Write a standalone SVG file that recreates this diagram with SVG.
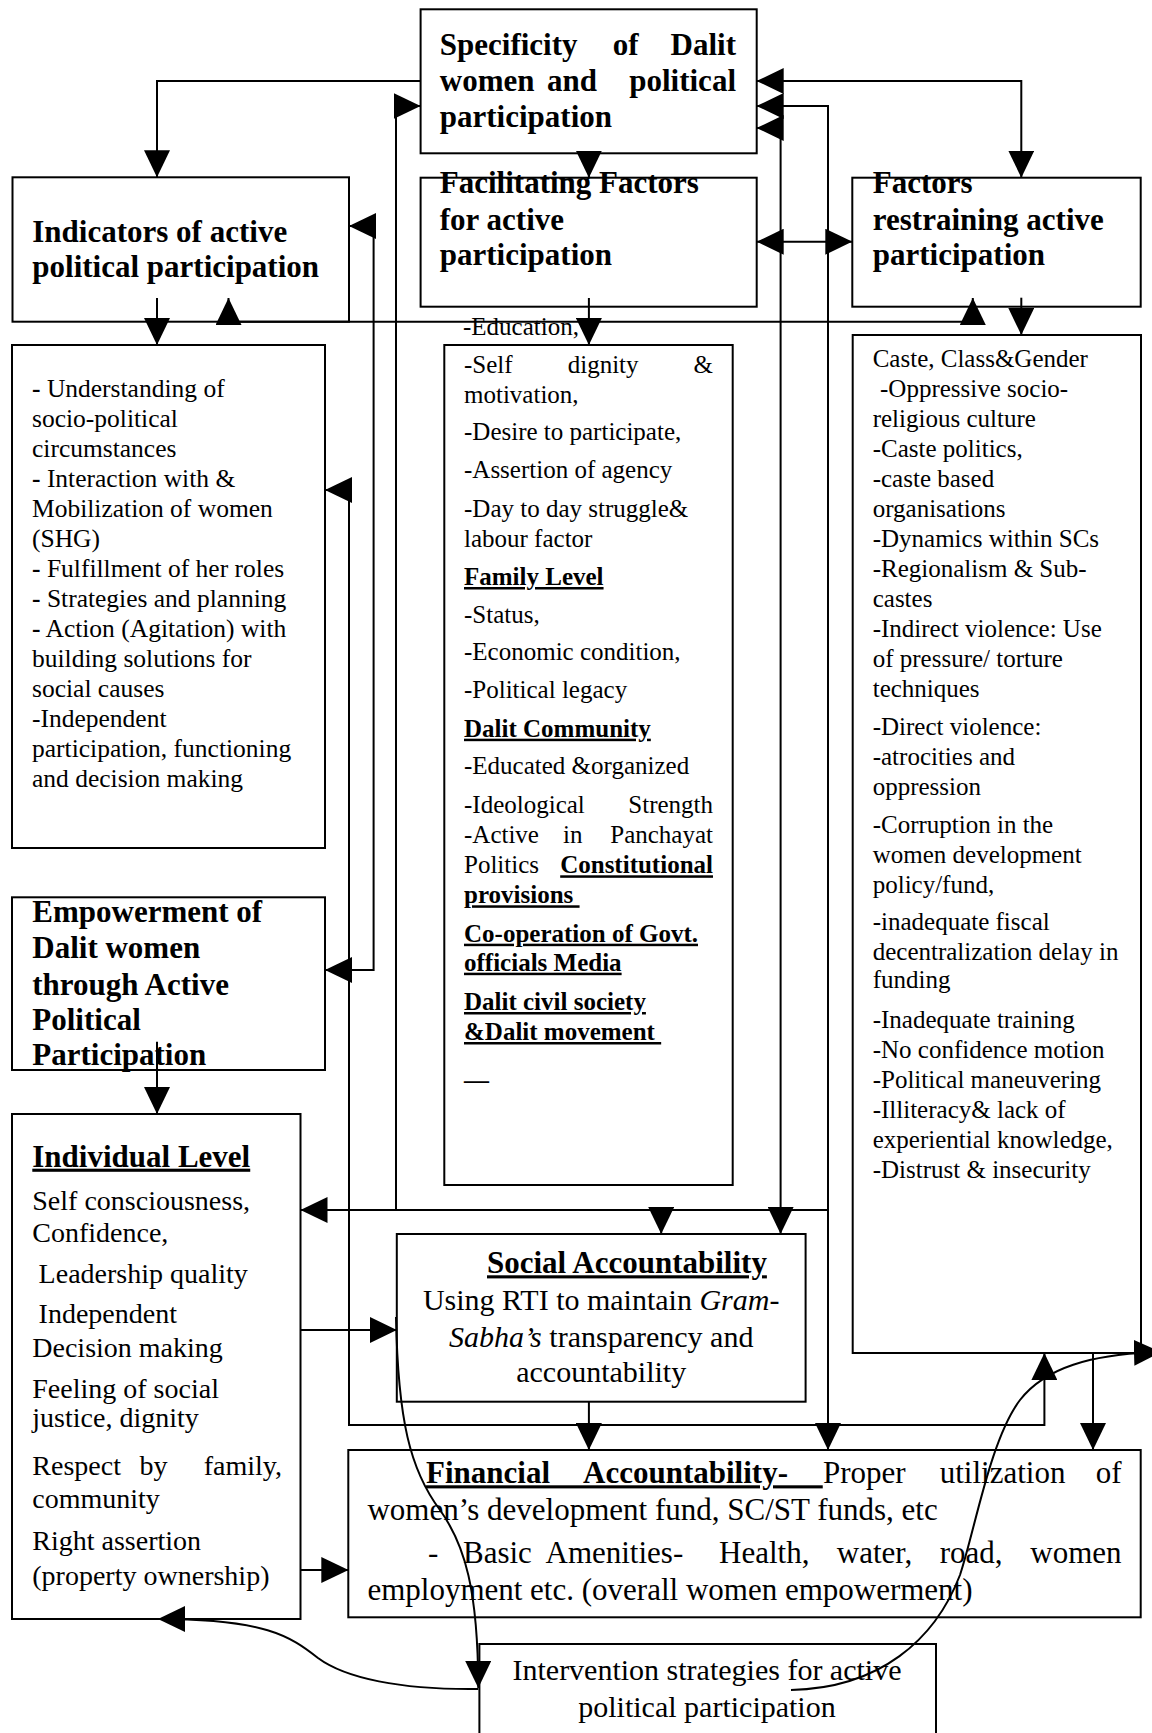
<svg xmlns="http://www.w3.org/2000/svg" width="1152" height="1733" viewBox="0 0 1152 1733">
<style>
.box{fill:#fff;stroke:#000;stroke-width:2}
.c{fill:none;stroke:#000;stroke-width:2;marker-end:url(#ah)}
.c2{fill:none;stroke:#000;stroke-width:2;marker-start:url(#ah);marker-end:url(#ah)}
.n{fill:none;stroke:#000;stroke-width:2}
text{font-family:"Liberation Serif","Times New Roman",serif;fill:#000}
.h{font-size:31px;font-weight:bold}
.t{font-size:25px}
.t5{font-size:25.5px}
.m{font-size:28px}
.l{font-size:30px}
.f{font-size:31px}
.b{font-weight:bold}
.u{text-decoration:underline}
.i{font-style:italic}
</style>
<defs>
<marker id="ah" markerUnits="userSpaceOnUse" viewBox="0 0 27 26" markerWidth="27" markerHeight="26" refX="27" refY="13" orient="auto-start-reverse">
<path d="M0,0 L27,13 L0,26 z" fill="#000"/>
</marker>
</defs>

<g id="specificity">
<rect class="box" x="420.6" y="9.3" width="336.1" height="144"/>
<text class="h" y="55"><tspan x="439.8">Specificity</tspan><tspan x="612.7">of</tspan></text>
<text class="h" x="736" y="55" text-anchor="end">Dalit</text>
<text class="h" y="90.7"><tspan x="439.8">women</tspan><tspan x="547">and</tspan></text>
<text class="h" x="736" y="90.7" text-anchor="end">political</text>
<text class="h" x="439.8" y="126.7">participation</text>
</g>

<g id="indicators">
<rect class="box" x="12.5" y="177.3" width="336.5" height="144.4"/>
<text class="h" x="32.3" y="241.7">Indicators of active</text>
<text class="h" x="32.3" y="276.7">political participation</text>
</g>

<g id="facilitating">
<rect class="box" x="420.6" y="177.7" width="336.1" height="129"/>
<text class="h" x="439.8" y="193">Facilitating Factors</text>
<text class="h" x="439.8" y="230">for active</text>
<text class="h" x="439.8" y="265">participation</text>
</g>

<g id="restraining">
<rect class="box" x="852.3" y="177.7" width="288.4" height="129"/>
<text class="h" x="872.8" y="193">Factors</text>
<text class="h" x="872.8" y="230">restraining active</text>
<text class="h" x="872.8" y="265">participation</text>
</g>

<g id="indicators-list">
<rect class="box" x="12" y="345" width="313" height="503"/>
<text class="t5" x="32" y="396.7"><tspan class="b">-</tspan> Understanding of</text>
<text class="t5" x="32" y="426.7">socio-political</text>
<text class="t5" x="32" y="456.7">circumstances</text>
<text class="t5" x="32" y="486.7"><tspan class="b">-</tspan> Interaction with &amp;</text>
<text class="t5" x="32" y="516.7">Mobilization of women</text>
<text class="t5" x="32" y="546.7">(SHG)</text>
<text class="t5" x="32" y="576.7"><tspan class="b">-</tspan> Fulfillment of her roles</text>
<text class="t5" x="32" y="606.7"><tspan class="b">-</tspan> Strategies and planning</text>
<text class="t5" x="32" y="636.7"><tspan class="b">-</tspan> Action (Agitation) with</text>
<text class="t5" x="32" y="666.7">building solutions for</text>
<text class="t5" x="32" y="696.7">social causes</text>
<text class="t5" x="32" y="726.7">-Independent</text>
<text class="t5" x="32" y="756.7">participation, functioning</text>
<text class="t5" x="32" y="786.7">and decision making</text>
</g>

<g id="facilitating-list">
<rect class="box" x="444.3" y="345" width="288.4" height="840"/>
<text class="t" x="463" y="335">-Education,</text>
<text class="t" y="373.3"><tspan x="464">-Self</tspan><tspan x="567.7">dignity</tspan></text>
<text class="t" x="713" y="373.3" text-anchor="end">&amp;</text>
<text class="t" x="464" y="403.3">motivation,</text>
<text class="t" x="464" y="440">-Desire to participate,</text>
<text class="t" x="464" y="478.3">-Assertion of agency</text>
<text class="t" x="464" y="516.7">-Day to day struggle&amp;</text>
<text class="t" x="464" y="546.7">labour factor</text>
<text class="t b u" x="464" y="585" font-size="26">Family Level</text>
<text class="t" x="464" y="623.3">-Status,</text>
<text class="t" x="464" y="660">-Economic condition,</text>
<text class="t" x="464" y="698.3">-Political legacy</text>
<text class="t b u" x="464" y="736.7" font-size="26">Dalit Community</text>
<text class="t" x="464" y="774">-Educated &amp;organized</text>
<text class="t" x="464" y="812.7">-Ideological</text>
<text class="t" x="713" y="812.7" text-anchor="end">Strength</text>
<text class="t" y="842.7"><tspan x="464">-Active</tspan><tspan x="563">in</tspan></text>
<text class="t" x="713" y="842.7" text-anchor="end">Panchayat</text>
<text class="t" x="464" y="873.3">Politics</text>
<text class="t b u" x="713" y="873.3" text-anchor="end" font-size="26">Constitutional</text>
<text class="t b u" x="464" y="903.3" font-size="26" xml:space="preserve">provisions </text>
<text class="t b u" x="464" y="941.7" font-size="26">Co-operation of Govt.</text>
<text class="t b u" x="464" y="970.7" font-size="26">officials Media</text>
<text class="t b u" x="464" y="1010" font-size="26">Dalit civil society</text>
<text class="t b u" x="464" y="1040" font-size="26" xml:space="preserve">&amp;Dalit movement </text>
<text class="t b" x="464" y="1088" font-size="26">—</text>
</g>

<g id="restraining-list">
<rect class="box" x="852.7" y="335" width="288.3" height="1018"/>
<text class="t" x="872.7" y="366.7">Caste, Class&amp;Gender</text>
<text class="t" x="880" y="396.7">-Oppressive socio-</text>
<text class="t" x="872.7" y="426.7">religious culture</text>
<text class="t" x="872.7" y="456.7">-Caste politics,</text>
<text class="t" x="872.7" y="486.7">-caste based</text>
<text class="t" x="872.7" y="516.7">organisations</text>
<text class="t" x="872.7" y="546.7">-Dynamics within SCs</text>
<text class="t" x="872.7" y="576.7">-Regionalism &amp; Sub-</text>
<text class="t" x="872.7" y="606.7">castes</text>
<text class="t" x="872.7" y="636.7">-Indirect violence: Use</text>
<text class="t" x="872.7" y="666.7">of pressure/ torture</text>
<text class="t" x="872.7" y="696.7">techniques</text>
<text class="t" x="872.7" y="735">-Direct violence:</text>
<text class="t" x="872.7" y="765">-atrocities and</text>
<text class="t" x="872.7" y="795">oppression</text>
<text class="t" x="872.7" y="833.3">-Corruption in the</text>
<text class="t" x="872.7" y="863.3">women development</text>
<text class="t" x="872.7" y="893.3">policy/fund,</text>
<text class="t" x="872.7" y="930">-inadequate fiscal</text>
<text class="t" x="872.7" y="960">decentralization delay in</text>
<text class="t" x="872.7" y="988.3">funding</text>
<text class="t" x="872.7" y="1028.3">-Inadequate training</text>
<text class="t" x="872.7" y="1058.3">-No confidence motion</text>
<text class="t" x="872.7" y="1088.3">-Political maneuvering</text>
<text class="t" x="872.7" y="1118.3">-Illiteracy&amp; lack of</text>
<text class="t" x="872.7" y="1148.3">experiential knowledge,</text>
<text class="t" x="872.7" y="1178.3">-Distrust &amp; insecurity</text>
</g>

<g id="empowerment">
<rect class="box" x="12" y="897.3" width="313" height="172.7"/>
<text class="h" x="32.3" y="921.7">Empowerment of</text>
<text class="h" x="32.3" y="958.3">Dalit women</text>
<text class="h" x="32.3" y="995">through Active</text>
<text class="h" x="32.3" y="1030">Political</text>
<text class="h" x="32.3" y="1065">Participation</text>
</g>

<g id="individual">
<rect class="box" x="12" y="1114" width="288.5" height="505"/>
<text class="h u" x="32.3" y="1166.7">Individual Level</text>
<text class="m" x="32.3" y="1210">Self consciousness,</text>
<text class="m" x="32.3" y="1241.7">Confidence,</text>
<text class="m" x="38.6" y="1283.3">Leadership quality</text>
<text class="m" x="38.6" y="1323.3">Independent</text>
<text class="m" x="32.3" y="1356.7">Decision making</text>
<text class="m" x="32.3" y="1398.3">Feeling of social</text>
<text class="m" x="32.3" y="1426.7">justice, dignity</text>
<text class="m" y="1475"><tspan x="32.3">Respect</tspan><tspan x="139.6">by</tspan></text>
<text class="m" x="282" y="1475" text-anchor="end">family,</text>
<text class="m" x="32.3" y="1508.3">community</text>
<text class="m" x="32.3" y="1550">Right assertion</text>
<text class="m" x="32.3" y="1585">(property ownership)</text>
</g>

<g id="social">
<rect class="box" x="396.8" y="1234" width="408.8" height="167.7"/>
<text class="h u" x="487" y="1273.3">Social Accountability</text>
<text class="l" x="601.2" y="1310" text-anchor="middle">Using RTI to maintain <tspan class="i">Gram-</tspan></text>
<text class="l" x="601.2" y="1346.7" text-anchor="middle"><tspan class="i">Sabha’s</tspan> transparency and</text>
<text class="l" x="601.2" y="1381.7" text-anchor="middle">accountability</text>
</g>

<g id="financial">
<rect class="box" x="348.3" y="1450" width="792.4" height="167.3"/>
<text class="f b u" x="426" y="1483.3" word-spacing="27" xml:space="preserve">Financial Accountability- </text>
<text class="f" y="1483.3"><tspan x="823">Proper</tspan><tspan x="939.7">utilization</tspan></text>
<text class="f" x="1121.6" y="1483.3" text-anchor="end">of</text>
<text class="f" x="367.4" y="1520">women’s development fund, SC/ST funds, etc</text>
<text class="f" y="1563.3"><tspan x="428">-</tspan><tspan x="463">Basic</tspan><tspan x="545.5">Amenities-</tspan><tspan x="719">Health,</tspan><tspan x="836.8">water,</tspan><tspan x="939.7">road,</tspan></text>
<text class="f" x="1121.6" y="1563.3" text-anchor="end">women</text>
<text class="f" x="367.4" y="1600">employment etc. (overall women empowerment)</text>
</g>

<g id="intervention">
<rect class="box" x="479.4" y="1644" width="456.6" height="120"/>
<text class="l" x="707" y="1680" text-anchor="middle">Intervention strategies for active</text>
<text class="l" x="707" y="1716.7" text-anchor="middle">political participation</text>
</g>

<g id="connectors">
<path class="c" d="M420.6,81 H157 V177.3"/>
<path class="c" d="M396,1210 V106 H420.6"/>
<path class="c" d="M828,1210 H300.5"/>
<path class="c" d="M661.2,1210 V1234"/>
<path class="c2" d="M756.7,128 H780.6 V1234"/>
<path class="c2" d="M756.7,106 H828 V1450"/>
<path class="c2" d="M756.7,81 H1021.3 V177.7"/>
<path class="c" d="M588.9,153.3 V177.7"/>
<path class="c2" d="M756.7,241.7 H852.3"/>
<path class="c" d="M588.9,298 V345"/>
<path class="c" d="M157,298 V345"/>
<path class="c" d="M1021.3,297.7 V335"/>
<path class="c2" d="M228.5,298 V321.7 H972.8 V298"/>
<path class="c2" d="M349,226 H373.6 V970 H325"/>
<path class="c2" d="M325,490 H349 V1425 H1044.4 V1353"/>
<path class="c" d="M157,1041.7 V1114"/>
<path class="c" d="M300.5,1330 H396.8"/>
<path class="c" d="M300.5,1570 H348.3"/>
<path class="c" d="M588.9,1401.7 V1450"/>
<path class="c" d="M1093,1353 V1450"/>
<path class="c" d="M396,1317 C398,1420 410,1470 440,1510 C465,1545 478,1590 478.3,1688"/>
<path class="c" d="M478.3,1689 C400,1690 345,1678 318,1658 C290,1636 265,1619 158,1619"/>
<path class="c" d="M791,1690 C880,1688 935,1640 960,1575 C975,1530 990,1440 1020,1400 C1045,1368 1090,1354 1161,1352"/>
</g>
</svg>
